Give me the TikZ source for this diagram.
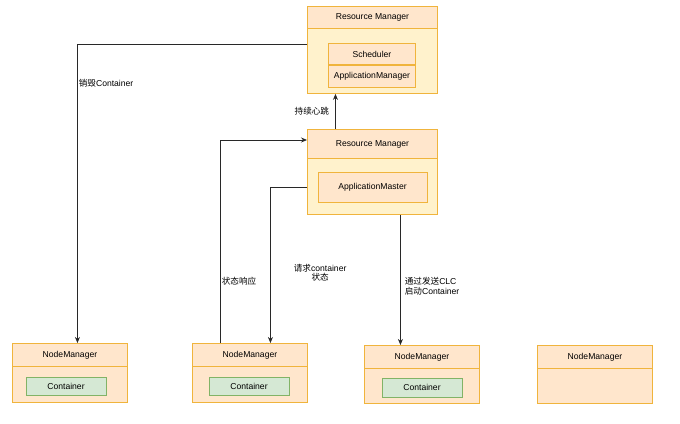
\documentclass[tikz,border=0pt]{standalone}
\usepackage{fontspec}
\setmainfont{Liberation Sans}
\newfontfamily\cjk{Noto Sans CJK SC}
\usetikzlibrary{arrows.meta,positioning}
\definecolor{laneline}{RGB}{240,180,60}
\definecolor{lanehead}{RGB}{255,230,204}
\definecolor{lanebody}{RGB}{255,242,204}
\definecolor{boxgreen}{RGB}{213,232,212}
\definecolor{linegreen}{RGB}{130,179,102}
\definecolor{wire}{RGB}{40,40,40}

\begin{document}
\begin{tikzpicture}[
        x=1pt, y=-1pt,
        font=\fontsize{8.6}{9.5}\selectfont,
        lane/.style={rectangle, draw=laneline, fill=lanebody, anchor=north west, inner sep=0pt, line width=0.9pt},
        head/.style={rectangle, draw=laneline, fill=lanehead, anchor=north west, inner sep=0pt, line width=0.9pt},
        part/.style={rectangle, draw=laneline, fill=lanehead, inner sep=0pt, line width=0.9pt},
        cont/.style={rectangle, draw=linegreen, fill=boxgreen, inner sep=0pt, line width=0.9pt, minimum width=80pt, minimum height=18pt},
        arrow/.style={-{Stealth[length=6pt,width=5pt]}, draw=wire, line width=0.8pt},
        tag/.style={inner sep=1pt, text=black}
    ]
        \useasboundingbox (0,0) rectangle (680,423);

        % Resource Manager (top)
        \node[lane, minimum width=130pt, minimum height=87pt] (rm1) at (307,6) {};
        \node[head, minimum width=130pt, minimum height=22pt] (rm1h) at (307,6) {Resource Manager};
        \node[part, anchor=north west, minimum width=87pt, minimum height=21pt] (sched) at (328,43) {Scheduler};
        \node[part, below=0pt of sched, minimum width=87pt, minimum height=22pt] (appmgr) {ApplicationManager};

        % Resource Manager (middle)
        \node[lane, minimum width=130pt, minimum height=85pt] (rm2) at (307,129) {};
        \node[head, minimum width=130pt, minimum height=29pt] (rm2h) at (307,129) {Resource Manager};
        \node[part, minimum width=109pt, minimum height=30pt] (amaster) at (372.5,187) {ApplicationMaster};

        % NodeManagers
        \node[lane, fill=lanehead, minimum width=115pt, minimum height=59pt] (nm1) at (12,343) {};
        \node[head, minimum width=115pt, minimum height=23pt] (nm1h) at (12,343) {NodeManager};
        \node[cont] (c1) at (66,386) {Container};
        \node[lane, fill=lanehead, minimum width=115pt, minimum height=59pt] (nm2) at (192,343) {};
        \node[head, minimum width=115pt, minimum height=23pt] (nm2h) at (192,343) {NodeManager};
        \node[cont] (c2) at (249,386) {Container};
        \node[lane, fill=lanehead, minimum width=115pt, minimum height=58pt] (nm3) at (364,345) {};
        \node[head, minimum width=115pt, minimum height=23pt] (nm3h) at (364,345) {NodeManager};
        \node[cont, minimum height=19pt] (c3) at (422,387.5) {Container};
        \node[lane, fill=lanehead, minimum width=115pt, minimum height=58pt] (nm4) at (537,345) {};
        \node[head, minimum width=115pt, minimum height=23pt] (nm4h) at (537,345) {NodeManager};

        % Arrows
        \draw[arrow] ([yshift=-38pt]rm1.north west) -| node[tag, anchor=west, pos=0.565] {{\cjk 销毁}Container} ([xshift=7.5pt]nm1.north);
        \draw[arrow] ([xshift=-37pt]rm2.north) -- node[tag, anchor=east, xshift=-5pt] {\cjk 持续心跳} ([xshift=-37pt]rm1.south);
        \draw[arrow] ([xshift=-29.5pt]nm2.north) |- node[tag, anchor=west, pos=0.153] {\cjk 状态响应} ([yshift=-11pt]rm2.north west);
        \draw[arrow] ([yshift=-58pt]rm2.north west) -| node[tag, anchor=west, align=center, pos=0.775, xshift=22pt] {{\cjk 请求}container\\{\cjk 状态}} ([xshift=20.5pt]nm2.north);
        \draw[arrow] ([xshift=28pt]rm2.south) -- node[tag, anchor=west, align=left, pos=0.55, xshift=3pt] {{\cjk 通过发送}CLC\\{\cjk 启动}Container} ([xshift=-21.5pt]nm3.north);

    \end{tikzpicture}
\end{document}
